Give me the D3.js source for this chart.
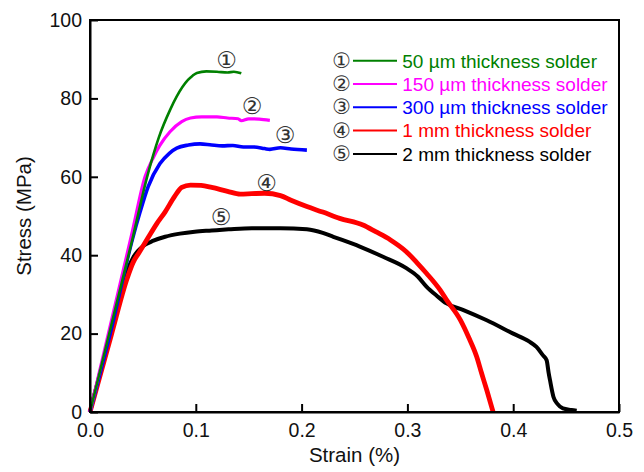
<!DOCTYPE html>
<html><head><meta charset="utf-8">
<script src="https://cdn.jsdelivr.net/npm/d3@7"></script>
<style>body{margin:0;background:#fff}svg{display:block}</style>
</head><body>
<svg id="c" width="644" height="472"></svg>
<script>
// ---- data (strain %, stress MPa) ----
const seriesNames = ["50 µm thickness solder","150 µm thickness solder","300 µm thickness solder","1 mm thickness solder","2 mm thickness solder"];
const seriesMarks = ["①","②","③","④","⑤"];
const seriesColors = ["#008000","#ff00ff","#0000ff","#ff0000","#000000"];
const xTicks = [0,0.1,0.2,0.3,0.4,0.5];
const yTicks = [0,20,40,60,80,100];

const s50 = [[0,0],[0.02,22],[0.04,44],[0.054,60],[0.065,70],[0.0756,77],[0.082,80.5],[0.0926,84.7],[0.097,85.8],[0.101,86.5],[0.11,86.9],[0.12,86.8],[0.13,86.6],[0.136,86.8],[0.143,86.4]];
const s150 = [[0,0],[0.02,23],[0.04,46],[0.052,60],[0.06,65],[0.066,68],[0.0756,71.5],[0.0867,74.1],[0.095,75],[0.1056,75.3],[0.12,75.3],[0.13,75],[0.14,74.8],[0.143,74.3],[0.15,74.8],[0.16,74.7],[0.17,74.4]];
const s300 = [[0,0],[0.02,21],[0.04,44],[0.0473,51],[0.055,57.5],[0.066,63.3],[0.075,66],[0.082,67.3],[0.093,68.1],[0.104,68.4],[0.115,68.1],[0.125,67.9],[0.135,68],[0.145,67.6],[0.155,67.6],[0.165,67.2],[0.17,67],[0.18,67.4],[0.19,67.1],[0.205,66.8]];
const s1mm = [[0,0],[0.02,19.5],[0.035,34],[0.041,38.3],[0.046,40.5],[0.055,44.5],[0.063,48],[0.0709,51],[0.08,55],[0.0867,57.3],[0.095,57.9],[0.105,57.8],[0.115,57.3],[0.13,56.3],[0.142,55.6],[0.153,55.7],[0.165,55.8],[0.18,55.2],[0.19,54],[0.205,52.4],[0.22,51],[0.236,49.4],[0.258,47.7],[0.27,46],[0.284,43.9],[0.299,40.9],[0.31,37.8],[0.318,35.4],[0.331,31.1],[0.337,28.6],[0.35,23.5],[0.358,19],[0.3655,14.1],[0.37,10],[0.375,5.6],[0.381,0]];
const s2mm = [[0,0],[0.02,21],[0.035,36],[0.041,39.5],[0.045,41],[0.05,42.3],[0.06,43.7],[0.071,44.7],[0.085,45.5],[0.099,46],[0.115,46.3],[0.131,46.6],[0.153,46.9],[0.18,46.9],[0.205,46.6],[0.22,45.7],[0.23,44.7],[0.255,42.2],[0.277,39.6],[0.299,36.7],[0.31,34.5],[0.318,32],[0.328,29.6],[0.337,27.7],[0.353,26],[0.375,23.4],[0.4,20],[0.415,18],[0.422,16.6],[0.428,14.5],[0.4316,13.2],[0.4335,10],[0.4348,8.1],[0.438,3.9],[0.442,2],[0.447,0.9],[0.455,0.5],[0.46,0.3]];
const seriesData = [s50,s150,s300,s1mm,s2mm];
// annotation positions (strain, stress)
const markPos = [[0.129,89.9],[0.1531,78.1],[0.1843,70.7],[0.167,58.5],[0.1238,49.7]];

// ---- layout ----
const svg = d3.select("#c");
const L=90,R=619,T=20,B=412;
const x = d3.scaleLinear().domain([0,0.5]).range([L,R]);
const y = d3.scaleLinear().domain([0,100]).range([B,T]);
const font = "'Liberation Sans', Arial, sans-serif";
const circ = "'DejaVu Sans', 'Noto Sans CJK SC', sans-serif";

const widths = [2.6,3.2,3.6,4.8,4];
const line = d3.line().x(d=>x(d[0])).y(d=>y(d[1])).curve(d3.curveMonotoneX);
[4,3,2,1,0].forEach(i=>{
  svg.append("path").attr("d",line(seriesData[i])).attr("fill","none")
    .attr("stroke",seriesColors[i]).attr("stroke-width",widths[i]).attr("stroke-linejoin","round");
});

// frame
svg.append("rect").attr("x",L).attr("y",T).attr("width",R-L).attr("height",B-T)
  .attr("fill","none").attr("stroke","#000").attr("stroke-width",2);

const ax = svg.append("g").attr("transform",`translate(0,${B})`)
  .call(d3.axisBottom(x).tickValues(xTicks).tickFormat(d3.format(".1f")).tickSizeInner(-8).tickSizeOuter(0).tickPadding(11));
const ay = svg.append("g").attr("transform",`translate(${L},0)`)
  .call(d3.axisLeft(y).tickValues(yTicks).tickFormat(d3.format("d")).tickSizeInner(-8).tickSizeOuter(0).tickPadding(8));
[ax,ay].forEach(g=>{
  g.select(".domain").attr("stroke","#000").attr("stroke-width",2);
  g.selectAll(".tick line").attr("stroke","#000").attr("stroke-width",2);
  g.selectAll(".tick text").attr("fill","#111").style("font-family",font).style("font-size","19.5px");
});

svg.append("text").attr("x",(L+R)/2).attr("y",462).attr("text-anchor","middle")
  .style("font-family",font).style("font-size","20.5px").attr("fill","#111").text("Strain (%)");
svg.append("text").attr("transform",`translate(31,${(T+B)/2}) rotate(-90)`).attr("text-anchor","middle")
  .style("font-family",font).style("font-size","20.5px").attr("fill","#111").text("Stress (MPa)");

// curve annotations
markPos.forEach((p,i)=>{
  svg.append("text").attr("x",x(p[0])).attr("y",y(p[1])).attr("text-anchor","middle")
    .attr("dominant-baseline","central").style("font-family",circ).style("font-size","23px")
    .attr("fill","#333").text(seriesMarks[i]);
});

// legend
seriesNames.forEach((n,i)=>{
  const cy = 60.7 + i*23.3;
  svg.append("text").attr("x",341.7).attr("y",cy).attr("text-anchor","middle")
    .attr("dominant-baseline","central").style("font-family",circ).style("font-size","21px")
    .attr("fill","#333").text(seriesMarks[i]);
  svg.append("line").attr("x1",353).attr("x2",397).attr("y1",cy).attr("y2",cy)
    .attr("stroke",seriesColors[i]).attr("stroke-width",2);
  svg.append("text").attr("x",402.3).attr("y",cy+6.8)
    .style("font-family",font).style("font-size","19px").attr("fill",seriesColors[i]).text(n);
});
</script>
</body></html>
